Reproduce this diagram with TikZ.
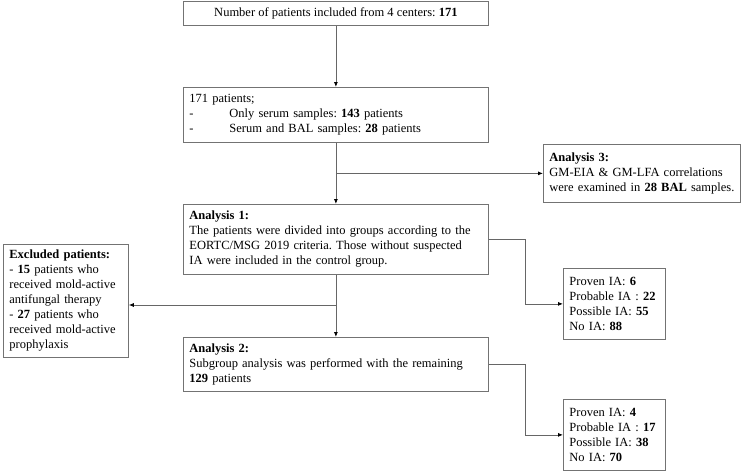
\documentclass[tikz,border=0pt]{standalone}
\usepackage{fontspec}
\setmainfont{Liberation Serif}
\usetikzlibrary{positioning}
\usetikzlibrary{arrows.meta}
\tikzset{
        boxnode/.style={rectangle, draw=black!55, line width=0.8pt, fill=white, text=black, anchor=north west,
                inner xsep=6pt, inner ysep=0pt, font=\fontsize{12.5}{15}\selectfont\frenchspacing},
        % Main column boxes
        node_main/.style={boxnode, align=left, text width=293pt, minimum width=305pt},
        % Side boxes
        node_side/.style={boxnode, align=left},
        % Count boxes
        node_count/.style={boxnode, align=left, text width=90pt, minimum width=102pt, minimum height=71pt}
}

\begin{document}
\begin{tikzpicture}[
            x=1pt, y=-1pt,
            ->, >={Latex[length=5pt,width=4pt,black]},
            line width=0.8pt, black!60
        ]
            \useasboundingbox (0,0) rectangle (746,471);
            \node[boxnode, align=center, minimum width=305pt, minimum height=24pt] (total) at (183,1)
                {Number of patients included from 4 centers: \textbf{171}};
            \node[node_main, minimum height=55pt] (samples) at (183,87)
                {171 patients;\\
                 \makebox[40pt][l]{-}Only serum samples: \textbf{143} patients\\
                 \makebox[40pt][l]{-}Serum and BAL samples: \textbf{28} patients};
            \node[node_main, minimum height=70pt] (analysis1) at (183,204)
                {\textbf{Analysis 1:}\\
                 The patients were divided into groups according to the\\
                 EORTC/MSG 2019 criteria. Those without suspected\\
                 IA were included in the control group.};
            \node[node_main, minimum height=54pt] (analysis2) at (183,337)
                {\textbf{Analysis 2:}\\
                 Subgroup analysis was performed with the remaining\\
                 \textbf{129} patients};
            \node[node_side, text width=185pt, minimum width=197pt, minimum height=58pt] (analysis3) at (543,144)
                {\textbf{Analysis 3:}\\
                 GM-EIA \& GM-LFA correlations\\
                 \mbox{were examined in \textbf{28 BAL} samples.}};
            \node[node_side, text width=113pt, minimum width=125pt, minimum height=113pt] (excluded) at (3,244)
                {\textbf{Excluded patients:}\\
                 - \textbf{15} patients who\\
                 \mbox{received mold-active}\\
                 antifungal therapy\\
                 - \textbf{27} patients who\\
                 \mbox{received mold-active}\\
                 prophylaxis};
            \node[node_count] (groups1) at (563,268)
                {Proven IA: \textbf{6}\\
                 \mbox{Probable IA : \textbf{22}}\\
                 Possible IA: \textbf{55}\\
                 No IA: \textbf{88}};
            \node[node_count] (groups2) at (563,399)
                {Proven IA: \textbf{4}\\
                 \mbox{Probable IA : \textbf{17}}\\
                 Possible IA: \textbf{38}\\
                 No IA: \textbf{70}};

            % branch points on the main line
            \coordinate (split_a3) at (samples.south |- analysis3.west);
            \coordinate (split_ex) at (336,305);

            \draw (total.south) -- (samples.north);
            \draw (samples.south) -- (analysis1.north);
            \draw (analysis1.south) -- (analysis2.north);
            \draw (split_a3) -- (analysis3.west);
            \draw (split_ex) -- (split_ex -| excluded.east);
            \draw (analysis1.east) -- ++(37,0) |- (groups1.west);
            \draw (analysis2.east) -- ++(37,0) |- (groups2.west);
        \end{tikzpicture}
\end{document}
